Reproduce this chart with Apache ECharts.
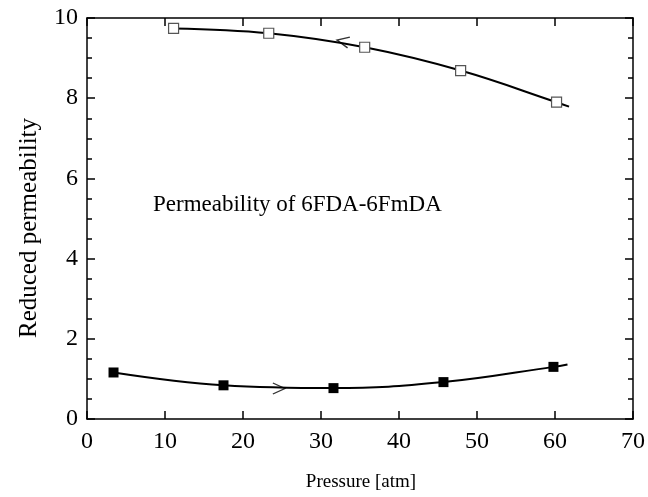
<!DOCTYPE html>
<html>
<head>
<meta charset="utf-8">
<script src="https://cdn.jsdelivr.net/npm/echarts@6/dist/echarts.min.js"></script>
<style>html,body{margin:0;padding:0;background:#fff;}#c{width:648px;height:497px;}</style>
</head>
<body>
<div id="c"></div>
<script>
// Decreasing branch (open squares)
var openX = [11.1, 23.3, 35.6, 47.9, 60.2];
var openY = [9.74, 9.62, 9.27, 8.69, 7.90];
// fitted curve end
var openCurveEndX = 61.8, openCurveEndY = 7.79;
// Increasing branch (filled squares)
var filledX = [3.4, 17.5, 31.6, 45.7, 59.8];
var filledY = [1.16, 0.84, 0.77, 0.92, 1.30];
var filledCurveEndX = 61.6, filledCurveEndY = 1.36;
// arrows
var arrowLeft = [32.8, 9.42];
var arrowRight = [24.6, 0.76];
var xTicks = [0, 10, 20, 30, 40, 50, 60, 70];
var yTicks = [0, 2, 4, 6, 8, 10];
var annotation = 'Permeability of 6FDA-6FmDA';
var xTitle = 'Pressure [atm]';
var yTitle = 'Reduced permeability';

function pairs(xs, ys) { return xs.map(function (x, i) { return [x, ys[i]]; }); }

var serif = 'Liberation Serif';
var chart = echarts.init(document.getElementById('c'), null, { renderer: 'canvas' });
function line() { return { show: true, onZero: false, lineStyle: { color: '#000', width: 1.5 } }; }
var tickStyle = { color: '#000', width: 1.5 };
var option = {
  animation: false,
  backgroundColor: '#fff',
  grid: { left: 87, right: 12, top: 18, bottom: 78 },
  xAxis: [{
    type: 'value', min: 0, max: 70, interval: 10, position: 'bottom',
    axisLine: line(),
    axisTick: { show: true, inside: true, length: 8, lineStyle: tickStyle },
    axisLabel: { color: '#000', fontFamily: serif, fontSize: 24, margin: 11 },
    splitLine: { show: false }
  }, {
    type: 'value', min: 0, max: 70, interval: 10, position: 'top',
    axisLine: line(),
    axisTick: { show: true, inside: true, length: 8, lineStyle: tickStyle },
    axisLabel: { show: false }, splitLine: { show: false }
  }],
  yAxis: [{
    type: 'value', min: 0, max: 10, interval: 2, position: 'left',
    axisLine: line(),
    axisTick: { show: true, inside: true, length: 8, lineStyle: tickStyle },
    minorTick: { show: true, splitNumber: 4, length: 5, lineStyle: tickStyle },
    axisLabel: { color: '#000', fontFamily: serif, fontSize: 24, margin: 9 },
    splitLine: { show: false }
  }, {
    type: 'value', min: 0, max: 10, interval: 2, position: 'right',
    axisLine: line(),
    axisTick: { show: true, inside: true, length: 8, lineStyle: tickStyle },
    minorTick: { show: true, splitNumber: 4, length: 5, lineStyle: tickStyle },
    axisLabel: { show: false }, splitLine: { show: false }
  }],
  series: [{
    type: 'line', smooth: 0.4, showSymbol: false, symbol: 'none',
    data: pairs(openX, openY).concat([[openCurveEndX, openCurveEndY]]),
    lineStyle: { color: '#000', width: 2 }, z: 2
  }, {
    type: 'line', smooth: 0.4, showSymbol: false, symbol: 'none',
    data: pairs(filledX, filledY).concat([[filledCurveEndX, filledCurveEndY]]),
    lineStyle: { color: '#000', width: 2 }, z: 2
  }, {
    type: 'scatter', symbol: 'rect', symbolSize: 10,
    data: pairs(openX, openY),
    itemStyle: { color: '#fff', borderColor: '#555', borderWidth: 1.2, opacity: 1 }, z: 5
  }, {
    type: 'scatter', symbol: 'rect', symbolSize: 10,
    data: pairs(filledX, filledY),
    itemStyle: { color: '#000', borderColor: '#000', borderWidth: 0, opacity: 1 }, z: 5
  }, {
    type: 'scatter', symbol: 'path://M10,0 L0,4 L10,8', symbolSize: [12, 11],
    symbolRotate: -12,
    data: [arrowLeft],
    itemStyle: { color: 'none', borderColor: '#000', borderWidth: 1.4 }, z: 6
  }, {
    type: 'scatter', symbol: 'path://M0,0 L10,4 L0,8', symbolSize: [12, 11],
    data: [arrowRight],
    itemStyle: { color: 'none', borderColor: '#000', borderWidth: 1.4 }, z: 6
  }],
  graphic: [{
    type: 'text', left: 153, top: 193,
    style: { text: annotation, font: '23px "Liberation Serif"', fill: '#000' }
  }, {
    type: 'text', x: 29, y: 228, rotation: Math.PI / 2,
    style: { text: yTitle, font: '25px "Liberation Serif"', fill: '#000', align: 'center', verticalAlign: 'middle' }
  }, {
    type: 'text', x: 361, y: 482,
    style: { text: xTitle, font: '19px "Liberation Serif"', fill: '#000', align: 'center', verticalAlign: 'middle' }
  }]
};
chart.setOption(option);
</script>
</body>
</html>
